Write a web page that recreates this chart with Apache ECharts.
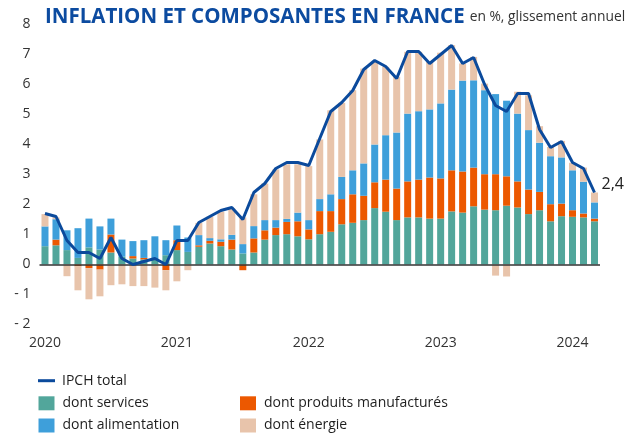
<!DOCTYPE html>
<html>
<head>
<meta charset="utf-8">
<script src="https://cdn.jsdelivr.net/npm/echarts@6/dist/echarts.min.js"></script>
<style>html,body{margin:0;padding:0;background:#fff}#c{width:634px;height:436px}</style>
</head>
<body>
<div id="c"></div>
<script>
const months = [];
for (let y = 2020; y <= 2024; y++) {
  for (let m = 1; m <= 12; m++) {
    if (y === 2024 && m > 3) break;
    months.push(y + '-' + String(m).padStart(2, '0'));
  }
}
const yearLabels = ['2020', '2021', '2022', '2023', '2024'];
const yTicks = [-2, -1, 0, 1, 2, 3, 4, 5, 6, 7, 8];

const services = [0.61,0.64,0.48,0.22,0.57,0.50,0.40,0.26,0.20,0.17,0.15,0.31,
  0.48,0.42,0.59,0.70,0.61,0.50,0.37,0.40,0.83,0.98,1.01,0.94,
  0.84,1.01,1.09,1.34,1.39,1.48,1.88,1.76,1.48,1.57,1.57,1.53,
  1.53,1.77,1.73,1.94,1.83,1.81,1.96,1.90,1.68,1.81,1.44,1.61,
  1.59,1.57,1.44];
const manufactures = [0,0.19,0,-0.06,-0.12,-0.17,0.60,0,0.08,0.05,0,-0.19,
  0.33,0,0.05,0.09,0.15,0.33,-0.19,0.47,0.31,0.25,0.41,0.50,
  0.33,0.77,0.69,0.84,0.95,0.81,0.86,1.07,1.05,1.20,1.26,1.37,
  1.34,1.37,1.37,1.29,1.18,1.20,0.98,0.87,0.82,0.61,0.57,0.42,
  0.22,0.13,0.09];
const alimentation = [0.66,0.68,0.66,0.99,0.96,0.77,0.53,0.57,0.50,0.59,0.79,0.50,
  0.49,0.48,0.34,0.09,0.08,0.16,0.31,0.41,0.34,0.25,0.10,0.29,
  0.31,0.40,0.56,0.74,0.80,1.08,1.26,1.48,1.87,2.26,2.28,2.27,
  2.50,2.69,3.03,2.91,2.80,2.67,2.52,2.26,1.98,1.64,1.60,1.54,
  1.33,1.06,0.54];
const energie = [0.41,0.06,-0.39,-0.80,-1.04,-0.89,-0.69,-0.66,-0.72,-0.72,-0.77,-0.67,
  -0.56,-0.19,0.41,0.71,0.92,0.88,0.89,1.06,1.22,1.69,1.82,1.61,
  1.80,1.99,2.80,2.47,2.67,3.16,2.75,2.28,1.86,2.06,1.98,1.59,
  1.69,1.48,0.57,0.78,0.22,-0.37,-0.40,0.73,1.16,0.55,0.31,0.55,
  0.25,0.47,0.33];
const ipch = [1.7,1.6,0.8,0.4,0.4,0.2,0.9,0.2,0.0,0.1,0.2,0.0,
  0.8,0.8,1.4,1.6,1.8,1.9,1.5,2.4,2.7,3.2,3.4,3.4,
  3.3,4.2,5.1,5.4,5.8,6.5,6.8,6.6,6.2,7.1,7.1,6.7,
  7.0,7.3,6.7,6.9,6.0,5.3,5.1,5.7,5.7,4.5,3.9,4.1,
  3.4,3.2,2.4];

const seriesNames = ['IPCH total','dont services','dont produits manufacturés','dont alimentation','dont énergie'];
const colors = {
  line: '#0b4a9c', services: '#52a69b', manuf: '#ec5800', food: '#3e9fda', energy: '#e8c4ab'
};

const chart = echarts.init(document.getElementById('c'), null, {renderer: 'canvas'});
const fontFam = '"Open Sans", "Noto Sans", sans-serif';
const barW = 7;

function legendItem(name, left, centerY, isLine) {
  return {
    left: left, top: centerY - 7.5, padding: 0, orient: 'horizontal',
    itemWidth: isLine ? 17 : 16, itemHeight: isLine ? 3 : 14,
    icon: 'rect',
    data: [name],
    textStyle: {fontFamily: fontFam, fontSize: 14, color: '#1e1e1e', lineHeight: 15, padding: [0, 0, 0, isLine ? 2 : 3]}
  };
}

chart.setOption({
  animation: false,
  backgroundColor: '#ffffff',
  title: {
    left: 40, top: 2,
    text: '{a|INFLATION ET COMPOSANTES EN FRANCE} {b|en %, glissement annuel}',
    textStyle: {
      rich: {
        a: {fontFamily: fontFam, fontWeight: 'bold', fontSize: 20.5, color: '#0c4ba0'},
        b: {fontFamily: fontFam, fontWeight: 'normal', fontSize: 13.8, color: '#333333'}
      }
    }
  },
  legend: [
    legendItem(seriesNames[0], 38, 380.7, true),
    legendItem(seriesNames[1], 38.5, 403.3, false),
    legendItem(seriesNames[3], 38.5, 425.5, false),
    legendItem(seriesNames[2], 240, 403.3, false),
    legendItem(seriesNames[4], 240, 425.5, false)
  ],
  grid: {left: 39.5, right: 34, top: 24.5, bottom: 111.5, containLabel: false},
  xAxis: {
    type: 'category',
    data: months,
    boundaryGap: true,
    axisLine: {show: false},
    axisTick: {show: false},
    axisLabel: {
      margin: 12,
      interval: 0,
      fontFamily: fontFam, fontSize: 14, color: '#333',
      formatter: function (v) {
        const [y, m] = v.split('-');
        return m === '01' && yearLabels.includes(y) ? y : '';
      }
    }
  },
  yAxis: {
    type: 'value',
    min: yTicks[0], max: yTicks[yTicks.length - 1], interval: 1,
    axisLine: {show: false},
    axisTick: {show: false},
    splitLine: {show: false},
    axisLabel: {
      margin: 9,
      fontFamily: fontFam, fontSize: 14, color: '#333',
      formatter: function (v) { return v < 0 ? '- ' + Math.abs(v) : String(v); }
    }
  },
  series: [
    {name: seriesNames[1], type: 'bar', stack: 'c', barWidth: barW, itemStyle: {color: colors.services}, data: services,
      markLine: {silent: true, symbol: ['none','none'], label: {show: false},
        lineStyle: {color: '#333', width: 1.5, type: 'solid'}, data: [{yAxis: 0}]}},
    {name: seriesNames[2], type: 'bar', stack: 'c', barWidth: barW, itemStyle: {color: colors.manuf}, data: manufactures},
    {name: seriesNames[3], type: 'bar', stack: 'c', barWidth: barW, itemStyle: {color: colors.food}, data: alimentation},
    {name: seriesNames[4], type: 'bar', stack: 'c', barWidth: barW, itemStyle: {color: colors.energy}, data: energie},
    {name: seriesNames[0], type: 'line', z: 5, symbol: 'none', showSymbol: false,
      lineStyle: {color: colors.line, width: 3}, itemStyle: {color: colors.line},
      endLabel: {show: true, distance: 0, fontFamily: fontFam, fontSize: 16, color: '#222', offset: [7, -8],
        formatter: function (p) { return String(p.value).replace('.', ','); }},
      data: ipch}
  ]
});
</script>
</body>
</html>
